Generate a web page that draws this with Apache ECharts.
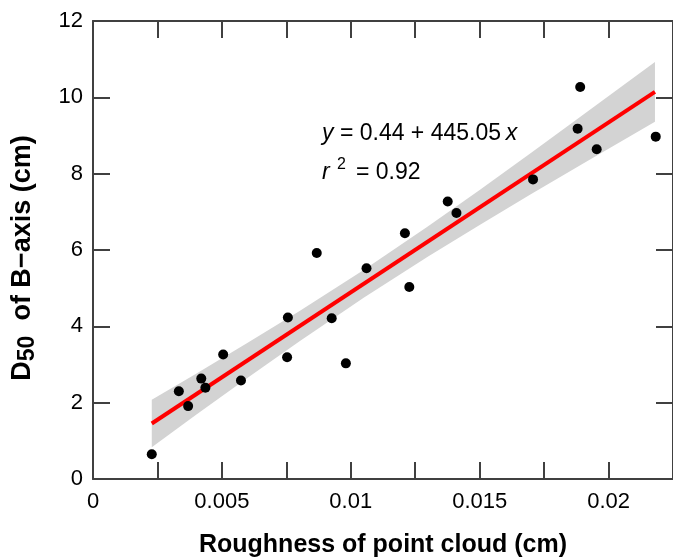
<!DOCTYPE html>
<html>
<head>
<meta charset="utf-8">
<script src="https://cdn.jsdelivr.net/npm/echarts@6/dist/echarts.min.js"></script>
<style>
	html, body { margin: 0; padding: 0; background: #fff; }
	#chart { width: 673px; height: 558px; }
</style>
</head>
<body>
<div id="chart"></div>
<script>
// 测点 (roughness, D50)
var roughness = [0.00228, 0.00333, 0.00369, 0.00420, 0.00436, 0.00505, 0.00574, 0.00756, 0.00753, 0.00868,
	0.00926, 0.00981, 0.01061, 0.01210, 0.01227, 0.01376, 0.01410, 0.01707, 0.01880, 0.01890, 0.01954, 0.02183];
var d50 = [0.65, 2.30, 1.91, 2.63, 2.39, 3.26, 2.58, 4.23, 3.19, 5.92,
	4.21, 3.03, 5.52, 6.44, 5.03, 7.27, 6.97, 7.85, 9.18, 10.27, 8.64, 8.97];

// 回归线端点
var fitX = [0.00228, 0.02180];
var fitY = [1.455, 10.142];

// 置信带
var bandX = [0.00228, 0.004, 0.006, 0.008, 0.0105, 0.013, 0.015, 0.017, 0.019, 0.0218];
var bandLow = [0.834, 1.681, 2.653, 3.604, 4.747, 5.829, 6.657, 7.464, 8.258, 9.358];
var bandHigh = [2.076, 2.760, 3.567, 4.396, 5.479, 6.623, 7.575, 8.548, 9.534, 10.926];

var xTicks = { min: 0, max: 0.0225, step: 0.0025 };
var yTicks = { min: 0, max: 12, step: 2 };

var FONT = '"Liberation Sans", Arial, sans-serif';
var AXIS_COLOR = '#404040';

function xLabel(v) {
	if (Math.round(v / 0.0025) % 2 !== 0) return '';
	return String(+v.toFixed(4));
}

var chart = echarts.init(document.getElementById('chart'));

var points = roughness.map(function (x, i) { return [x, d50[i]]; });
var fit = fitX.map(function (x, i) { return [x, fitY[i]]; });
var band = bandX.map(function (x, i) { return [x, bandLow[i], bandHigh[i]]; });

// 置信带画成一个多边形
function renderBand(params, api) {
	if (params.dataIndex !== 0) return;
	var upper = [], lower = [];
	for (var i = 0; i < band.length; i++) {
		upper.push(api.coord([band[i][0], band[i][2]]));
		lower.push(api.coord([band[i][0], band[i][1]]));
	}
	return {
		type: 'polygon',
		shape: { points: upper.concat(lower.reverse()) },
		style: { fill: '#d3d3d3', stroke: null }
	};
}

var tickStyle = { show: true, inside: true, length: 17, lineStyle: { color: AXIS_COLOR, width: 2 } };
var lineStyle = { show: true, onZero: false, lineStyle: { color: AXIS_COLOR, width: 2 } };

var option = {
	animation: false,
	backgroundColor: '#fff',
	grid: { left: 93, top: 21, width: 588, height: 458 },
	xAxis: [{
		type: 'value',
		position: 'bottom',
		min: xTicks.min, max: xTicks.max, interval: xTicks.step,
		axisLine: lineStyle,
		axisTick: tickStyle,
		splitLine: { show: false },
		axisLabel: { formatter: xLabel, color: '#000', fontSize: 22, fontFamily: FONT, margin: 12, showMaxLabel: false }
	}, {
		type: 'value',
		position: 'top',
		min: xTicks.min, max: xTicks.max, interval: xTicks.step,
		axisLine: lineStyle,
		axisTick: tickStyle,
		axisLabel: { show: false },
		splitLine: { show: false }
	}],
	yAxis: [{
		type: 'value',
		position: 'left',
		min: yTicks.min, max: yTicks.max, interval: yTicks.step,
		axisLine: lineStyle,
		axisTick: tickStyle,
		splitLine: { show: false },
		axisLabel: { color: '#000', fontSize: 22, fontFamily: FONT, margin: 10 }
	}, {
		type: 'value',
		position: 'right',
		min: yTicks.min, max: yTicks.max, interval: yTicks.step,
		axisLine: lineStyle,
		axisTick: tickStyle,
		axisLabel: { show: false },
		splitLine: { show: false }
	}],
	graphic: [{
		// 横轴标题
		type: 'text',
		x: 383, y: 545,
		style: {
			text: 'Roughness of point cloud (cm)',
			align: 'center', verticalAlign: 'middle',
			fontSize: 25, fontWeight: 'bold', fill: '#000', fontFamily: FONT
		}
	}, {
		// 纵轴标题
		type: 'text',
		x: 24, y: 258,
		rotation: Math.PI / 2,
		style: {
			text: '{b|D}{s|50}{b|  of B\u2212axis (cm)}',
			align: 'center',
			verticalAlign: 'middle',
			rich: {
				b: { fontSize: 27, fontWeight: 'bold', fill: '#000', fontFamily: FONT, lineHeight: 30, verticalAlign: 'top' },
				s: { fontSize: 23, fontWeight: 'bold', fill: '#000', fontFamily: FONT, lineHeight: 30, verticalAlign: 'bottom', padding: [3, 0, 0, 0] }
			}
		}
	}, {
		type: 'text',
		left: 322, top: 122,
		style: {
			text: '{i|y} = 0.44 + 445.05\u2009{i|x}',
			fontSize: 23, fontFamily: FONT, fill: '#000',
			rich: { i: { fontSize: 23, fontStyle: 'italic', fontFamily: FONT, fill: '#000' } }
		}
	}, {
		type: 'text', left: 322, top: 161,
		style: { text: 'r', fontSize: 23, fontStyle: 'italic', fontFamily: FONT, fill: '#000' }
	}, {
		type: 'text', left: 337, top: 157,
		style: { text: '2', fontSize: 16, fontFamily: FONT, fill: '#000' }
	}, {
		type: 'text', left: 356, top: 161,
		style: { text: '= 0.92', fontSize: 23, fontFamily: FONT, fill: '#000' }
	}],
	series: [{
		name: 'band',
		type: 'custom',
		renderItem: renderBand,
		data: band,
		encode: { x: 0, y: [1, 2] },
		z: 1
	}, {
		name: 'fit',
		type: 'line',
		data: fit,
		symbol: 'none',
		lineStyle: { color: '#ff0000', width: 4 },
		z: 2
	}, {
		name: 'points',
		type: 'scatter',
		data: points,
		symbol: 'circle',
		symbolSize: 10,
		itemStyle: { color: '#000', opacity: 1 },
		z: 3
	}]
};

chart.setOption(option);
</script>
</body>
</html>
